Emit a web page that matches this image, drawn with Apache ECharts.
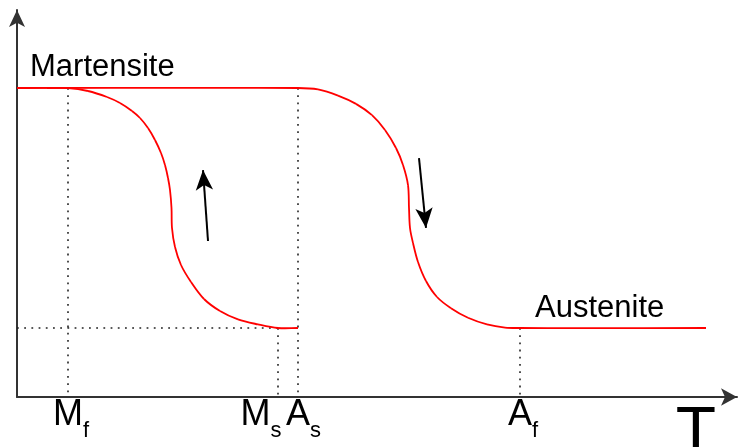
<!DOCTYPE html>
<html>
<head>
<meta charset="utf-8">
<script src="https://cdn.jsdelivr.net/npm/echarts@6/dist/echarts.min.js"></script>
<style>
html,body{margin:0;padding:0;background:#fff;}
#chart{width:739px;height:447px;}
</style>
</head>
<body>
<div id="chart"></div>
<script>
// ---- data (temperature in arbitrary units, y = martensite fraction) ----
const tickValues = [51, 261, 281, 503];          // Mf, Ms, As, Af
const tickMain   = ['M', 'M', 'A', 'A'];
const tickSub    = ['f', 's', 's', 'f'];

// heating branch: martensite -> austenite (with plateau lines)
const heatT = [0, 281, 301, 321, 339, 355, 368, 379, 386, 391, 392, 393, 396, 401, 409, 420, 434, 451, 470, 488, 503, 689];
const heatM = [1, 1, 0.9938, 0.9683, 0.9338, 0.8867, 0.825, 0.75, 0.6792, 0.5958, 0.5, 0.4167, 0.3542, 0.275, 0.1958, 0.1292, 0.0825, 0.0425, 0.015, 0.0017, 0, 0];

// cooling branch: austenite -> martensite
const coolT = [30, 51, 71, 90, 103, 115, 123, 131, 138, 144, 148, 151, 153, 154.5, 155, 158, 164, 174, 187, 203, 221, 241, 261, 281];
const coolM = [1, 1, 0.9875, 0.9625, 0.9375, 0.9042, 0.875, 0.8333, 0.7833, 0.7292, 0.6792, 0.625, 0.575, 0.5, 0.4167, 0.3375, 0.2625, 0.1917, 0.1208, 0.0708, 0.0358, 0.015, 0, 0];

// direction arrows [fromT, fromM, toT, toM]
const arrowCool = [191, 0.3625, 186, 0.658];
const arrowHeat = [402, 0.708, 409, 0.417];

const phaseLabels = ['Martensite', 'Austenite'];
const axisName = 'T';

const xMin = 0, xMax = 720;
const yMin = -0.2875, yMax = 1.325;

const FONT = 'Liberation Sans, Arial, sans-serif';

const guideStyle = { color: '#222', width: 1.6, type: [1.8, 5.4] };
function guide(points) {
  return { type: 'line', data: points, symbol: 'none', silent: true,
           lineStyle: guideStyle, z: 1, animation: false };
}

// smooth curve through the data points, mapped with the axes' scales
function curveSeries(ts, ms) {
  return {
    type: 'custom', z: 3, silent: true,
    data: [0],
    renderItem: function (params, api) {
      const p = ts.map((t, i) => api.coord([t, ms[i]]));
      const n = p.length;
      const tan = p.map((pt, i) => {
        const a = p[Math.max(0, i - 1)], b = p[Math.min(n - 1, i + 1)];
        const dx = b[0] - a[0], dy = b[1] - a[1];
        const L = Math.hypot(dx, dy) || 1;
        return [dx / L, dy / L];
      });
      const children = [];
      for (let i = 0; i < n - 1; i++) {
        const d = Math.hypot(p[i + 1][0] - p[i][0], p[i + 1][1] - p[i][1]) / 3;
        children.push({
          type: 'bezierCurve',
          shape: {
            x1: p[i][0], y1: p[i][1],
            cpx1: p[i][0] + tan[i][0] * d, cpy1: p[i][1] + tan[i][1] * d,
            cpx2: p[i + 1][0] - tan[i + 1][0] * d, cpy2: p[i + 1][1] - tan[i + 1][1] * d,
            x2: p[i + 1][0], y2: p[i + 1][1]
          },
          style: { stroke: '#ff0000', lineWidth: 1.8, fill: null }
        });
      }
      return { type: 'group', children: children };
    }
  };
}

const rich = {
  m: { fontSize: 36, fontFamily: FONT, color: '#000', lineHeight: 36 },
  s: { fontSize: 22, fontFamily: FONT, color: '#000', lineHeight: 36, padding: [32, 0, 0, 0] },
  l0: { width: 6 }, l1: { width: 0 }, l2: { width: 11 }, l3: { width: 6 },
  t0: { width: 0 }, t1: { width: 34 }, t2: { width: 0 }, t3: { width: 0 }
};

const option = {
  animation: false,
  grid: { left: 17, right: 2, top: 10, bottom: 50, containLabel: false, outerBoundsMode: 'none' },
  xAxis: {
    type: 'value', min: xMin, max: xMax,
    name: axisName, nameLocation: 'end', nameGap: -41,
    nameTextStyle: { fontSize: 66, fontFamily: FONT, color: '#000', align: 'center', verticalAlign: 'top',
                     lineHeight: 66, padding: [5, 0, 0, 0] },
    axisLine: { show: true, onZero: false, lineStyle: { color: '#333', width: 2 },
                symbol: ['none', 'arrow'], symbolSize: [13, 16] },
    axisTick: { show: false },
    splitLine: { show: false },
    axisLabel: {
      show: true, customValues: tickValues, margin: 0, verticalAlign: 'top',
      formatter: (v) => {
        const i = tickValues.indexOf(v);
        if (i < 0) return '';
        return '{l' + i + '|}{m|' + tickMain[i] + '}{s|' + tickSub[i] + '}{t' + i + '|}';
      },
      rich: rich
    }
  },
  yAxis: {
    type: 'value', min: yMin, max: yMax,
    axisLine: { show: true, onZero: false, lineStyle: { color: '#333', width: 2 },
                symbol: ['none', 'arrow'], symbolSize: [12, 17] },
    axisTick: { show: false },
    splitLine: { show: false },
    axisLabel: { show: false }
  },
  graphic: [
    { type: 'text', left: 30, top: 52, style: { text: phaseLabels[0], font: '31px ' + FONT, fill: '#000' } },
    { type: 'text', left: 535, top: 293, style: { text: phaseLabels[1], font: '31px ' + FONT, fill: '#000' } }
  ],
  series: [
    guide([[tickValues[0], 1], [tickValues[0], yMin]]),
    guide([[tickValues[1], 0], [tickValues[1], yMin]]),
    guide([[tickValues[2], 1], [tickValues[2], yMin]]),
    guide([[tickValues[3], 0], [tickValues[3], yMin]]),
    guide([[xMin, 0], [tickValues[1], 0]]),
    curveSeries(heatT, heatM),
    curveSeries(coolT, coolM),
    { type: 'line', data: [], symbol: 'none',
      markLine: {
        silent: true, animation: false,
        symbol: ['none', 'arrow'], symbolSize: [13, 20],
        lineStyle: { color: '#000', width: 2, type: 'solid' },
        label: { show: false },
        data: [
          [{ coord: [arrowCool[0], arrowCool[1]] }, { coord: [arrowCool[2], arrowCool[3]] }],
          [{ coord: [arrowHeat[0], arrowHeat[1]] }, { coord: [arrowHeat[2], arrowHeat[3]] }]
        ]
      } }
  ]
};

const chart = echarts.init(document.getElementById('chart'), null, { renderer: 'canvas' });
chart.setOption(option);
</script>
</body>
</html>
